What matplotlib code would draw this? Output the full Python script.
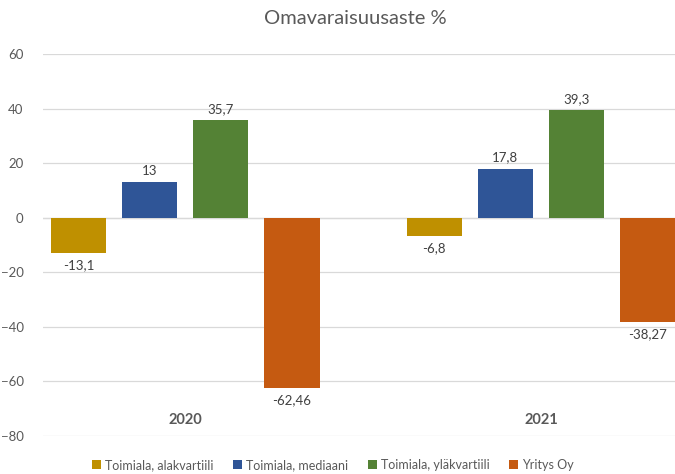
import matplotlib
matplotlib.use("Agg")
import matplotlib.pyplot as plt
from matplotlib.patches import Patch
import numpy as np

plt.rcParams['font.family'] = ['Lato', 'DejaVu Sans']

years = ["2020", "2021"]
series = ["Toimiala, alakvartiili", "Toimiala, mediaani", "Toimiala, yläkvartiili", "Yritys Oy"]
values = {
    "Toimiala, alakvartiili": [-13.1, -6.8],
    "Toimiala, mediaani": [13, 17.8],
    "Toimiala, yläkvartiili": [35.7, 39.3],
    "Yritys Oy": [-62.46, -38.27],
}
labels = {
    "Toimiala, alakvartiili": ["-13,1", "-6,8"],
    "Toimiala, mediaani": ["13", "17,8"],
    "Toimiala, yläkvartiili": ["35,7", "39,3"],
    "Yritys Oy": ["-62,46", "-38,27"],
}
colors = ["#BF9000", "#2F5597", "#548235", "#C55A11"]
yticks = [-80, -60, -40, -20, 0, 20, 40, 60]

W, H = 675, 474
fig = plt.figure(figsize=(W/100, H/100), dpi=100)
ax = fig.add_axes([43/W, 1-436/H, (675-43)/W, (436-54)/H])

x = np.arange(len(years))
offsets = [-0.3, -0.1, 0.1, 0.3]
bw = 0.155
txt = "#404040"
for s, c, o in zip(series, colors, offsets):
    bars = ax.bar(x + o, values[s], width=bw, color=c, zorder=3)
    for b, v, lab in zip(bars, values[s], labels[s]):
        xc = b.get_x() + b.get_width()/2
        if v >= 0:
            ax.annotate(lab, (xc, v), xytext=(0, 4), textcoords="offset points",
                        ha="center", va="bottom", fontsize=9.5, color=txt)
        else:
            ax.annotate(lab, (xc, v), xytext=(0, -4), textcoords="offset points",
                        ha="center", va="top", fontsize=9.5, color=txt)

for xi, y in zip(x, years):
    ax.text(xi, -74, y, ha="center", va="center", fontsize=10.5, fontweight="bold", color="#595959")

ax.set_ylim(-80, 60)
ax.set_xlim(-0.4, 1.377)
ax.set_yticks(yticks)
ax.set_xticks([])
ax.tick_params(axis="y", length=0, pad=14, labelsize=9.5, labelcolor="#595959")
ax.grid(axis="y", color="#D9D9D9", linewidth=0.9, zorder=0)
for sp in ax.spines.values():
    sp.set_visible(False)
ax.axhline(0, color="#D9D9D9", linewidth=0.9, zorder=1)

fig.text(355/W, 1-18/H, "Omavaraisuusaste %", ha="center", va="center", fontsize=14.5, color="#595959")

handles = [Patch(facecolor=c, edgecolor="none") for c in colors]
fig.legend(handles, series, loc="center", bbox_to_anchor=(333/W, 1-465/H), ncol=4, frameon=False,
           fontsize=9, handlelength=0.7, handleheight=0.7, handletextpad=0.3, columnspacing=1.6,
           labelcolor="#595959")

fig.savefig("out.png", dpi=100)
